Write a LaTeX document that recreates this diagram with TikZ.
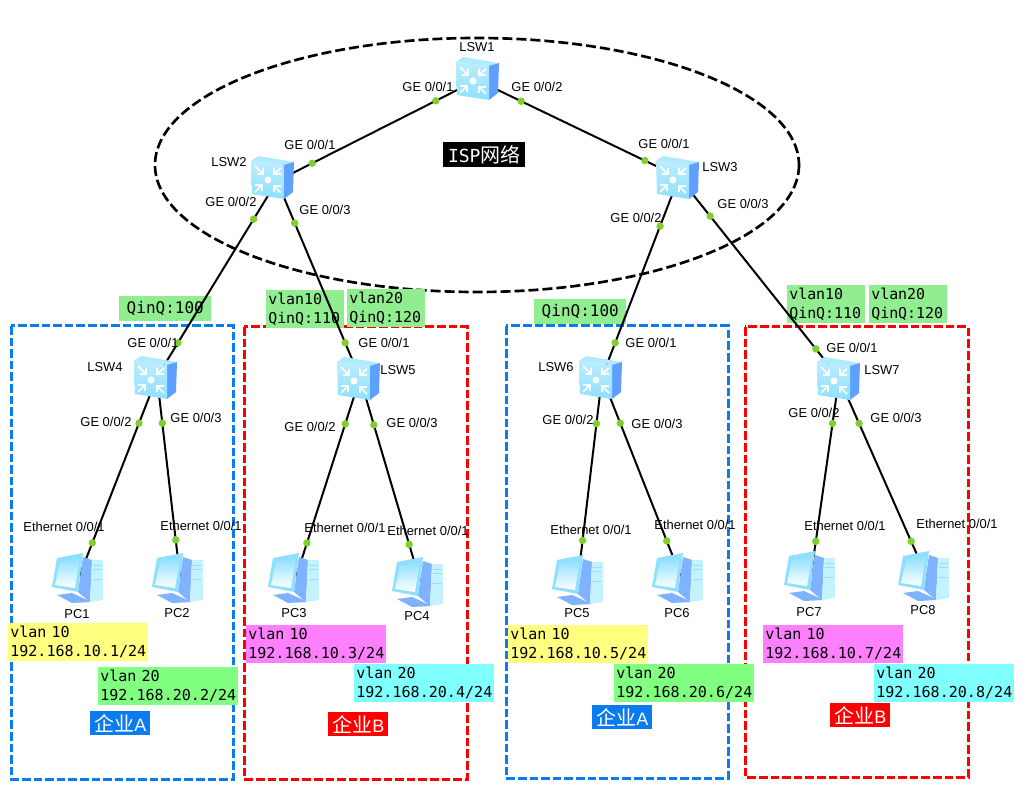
\documentclass[tikz,border=0pt]{standalone}
\usepackage{fontspec}
\setmainfont{Liberation Sans}
\setmonofont{DejaVu Sans Mono}
\newfontfamily\cjk{Noto Sans CJK SC}
\usepackage{xcolor}
\usepackage{tikz}
\usetikzlibrary{calc}
\definecolor{portGreen}{HTML}{7FD02F}
\definecolor{siteBlue}{HTML}{0A7CF0}
\definecolor{siteRed}{HTML}{FF0000}
\definecolor{noteYellow}{HTML}{FFFF80}
\definecolor{notePink}{HTML}{FF80FF}
\definecolor{noteGreen}{HTML}{80FF80}
\definecolor{noteCyan}{HTML}{80FFFF}
\definecolor{noteQinq}{HTML}{90EE90}
\definecolor{iconSky}{HTML}{8FE0FF}
\definecolor{iconPale}{HTML}{C4F3FF}
\definecolor{iconDeep}{HTML}{5F9FFF}
\definecolor{iconMid}{HTML}{7FB2FF}

\tikzset{
  devnode/.style={inner sep=0pt, minimum size=0pt},
  link/.style={black, line width=1.5pt},
  port/.style={circle, fill=portGreen, inner sep=0pt, minimum size=5.6pt},
  devtext/.style={inner sep=0pt, font=\fontsize{9.7}{11}\selectfont},
  vlanbox/.style={anchor=north west, inner sep=1.5pt, text width=102pt, minimum height=28.5pt, align=left, font=\ttfamily\fontsize{11.3}{14.4}\selectfont},
  qinqbox/.style={anchor=north west, fill=noteQinq, inner sep=1.5pt, text width=55pt, minimum height=28.5pt, align=left, font=\ttfamily\fontsize{11.2}{14.4}\selectfont},
  qinqone/.style={anchor=north west, fill=noteQinq, inner sep=0pt, minimum width=69pt, minimum height=18.5pt, font=\ttfamily\fontsize{12}{14}\selectfont},
  sitetag/.style={anchor=north west, text=white, inner sep=0pt, minimum width=45pt, minimum height=18pt, font=\fontsize{13.5}{15}\selectfont},
  sitebox/.style={line width=2.25pt, dash pattern=on 6.5pt off 2.2pt},
  switchicon/.pic={
    \fill[iconSky!70!white] (-21,-16) -- (-14,-21) -- (22,-15) -- (12,-12) -- cycle;
    \fill[iconDeep] (12,-12) -- (22,-15) -- (21,15) -- (12,22) -- cycle;
    \shade[top color=iconSky!60!white, bottom color=iconSky] (-21,-16) -- (12,-12) -- (12,22) -- (-20,17) -- cycle;
    \fill[white] (-4,3) circle (3.5);
    \draw[white, line width=1.3pt] (-17,-11) -- (-9,-3) (-9,-9) -- (-9,-3) -- (-15,-3)
      (9,-9) -- (2,-3) (2,-9) -- (2,-3) -- (9,-3)
      (-17,15) -- (-10,8) (-10,14) -- (-10,8) -- (-17,8)
      (9,16) -- (2,9) (2,15) -- (2,9) -- (9,9);
  },
  pcicon/.pic={
    \fill[iconMid] (-21,18) -- (-6,16) -- (14,25) -- (-6,26) -- cycle;
    \fill[iconMid] (5,-20) -- (14,-17) -- (12,25) -- (0,15) -- cycle;
    \fill[iconPale] (14,-17) -- (25,-17) -- (25,23) -- (12,25) -- cycle;
    \draw[iconSky, line width=0.7pt] (15,-12) -- (24,-12) (15,-8) -- (24,-8) (15,2) -- (24,2);
    \fill[iconSky] (-26,10) -- (-21,-19) -- (5,-24) -- (0,15) -- cycle;
    \shade[top color=iconSky, bottom color=white] (-23,8) -- (-18,-15) -- (2,-19) -- (-3,11) -- cycle;
  }
}

\begin{document}
\begin{tikzpicture}[x=0.75pt, y=-0.75pt, line cap=butt]
  \useasboundingbox (0,0) rectangle (1025,791);

  % link ends of the devices
  \foreach \name/\x/\y in {lsw1/477/80, lsw2/277/181, lsw3/679/177, lsw4/157/377, lsw5/360/378, lsw6/602/377, lsw7/839/378,
      pc1/79/577, pc2/180/577, pc3/296/577, pc4/420/581, pc5/578/579, pc6/681/577, pc7/811/575, pc8/926/575}
    \node[devnode] (\name) at (\x,\y) {};

  % isp cloud and customer sites
  \draw[black, line width=2pt, dash pattern=on 7.5pt off 3pt] (477,165) ellipse [x radius=322, y radius=127];
  \draw[sitebox, siteBlue] (11,326) rectangle (233,779);
  \draw[sitebox, siteRed] (244,327) rectangle (467,779);
  \draw[sitebox, siteBlue] (506,326) rectangle (728,778);
  \draw[sitebox, siteRed] (745,327) rectangle (968,777);

  % outer tags
  \node[qinqone] (tagA) at (119,296) {QinQ:100};
  \node[qinqone] (tagB) at (534,299) {QinQ:100};
  \node[qinqbox] (tagC) at (266,290) {vlan10\\QinQ:110};
  \node[qinqbox] (tagD) at (347,289) {vlan20\\QinQ:120};
  \node[qinqbox] (tagE) at (787,285) {vlan10\\QinQ:110};
  \node[qinqbox] (tagF) at (869,285) {vlan20\\QinQ:120};

  % links, each with its two port dots
  \foreach \from/\to/\p/\q in {lsw1/lsw2/0.205/0.825, lsw1/lsw3/0.218/0.832, lsw2/lsw4/0.194/0.827, lsw2/lsw5/0.213/0.822,
      lsw3/lsw6/0.245/0.83, lsw3/lsw7/0.194/0.856, lsw4/pc1/0.23/0.83, lsw4/pc2/0.23/0.815,
      lsw5/pc3/0.23/0.83, lsw5/pc4/0.23/0.82, lsw6/pc5/0.23/0.81, lsw6/pc6/0.23/0.82,
      lsw7/pc7/0.23/0.83, lsw7/pc8/0.23/0.83}
    \draw[link] (\from) -- node[port, pos=\p] {} node[port, pos=\q] {} (\to);

  \foreach \x/\y in {477/78, 272/177, 677/177, 155/377, 358/378, 600/377, 838/378}
    \pic at (\x,\y) {switchicon};
  \foreach \x/\y in {78/577, 178/577, 294/577, 418/581, 578/579, 678/577, 810/575, 924/575}
    \pic at (\x,\y) {pcicon};

  % device names
  \foreach \name/\x/\y/\txt in {nameA/477/47/LSW1, nameB/229/162/LSW2, nameC/720/167/LSW3, nameD/105/367/LSW4,
      nameE/398/370/LSW5, nameF/556/367/LSW6, nameG/882/370/LSW7,
      nameH/77/614/PC1, nameI/177/613/PC2, nameJ/294/613/PC3, nameK/417/616/PC4,
      nameL/577/613/PC5, nameM/677/613/PC6, nameN/809/612/PC7, nameO/923/610/PC8}
    \node[devtext] (\name) at (\x,\y) {\txt};

  % port names
  \foreach \name/\x/\y/\n in {geA/428/87/1, geB/537/87/2, geC/310/145/1, geD/231/202/2, geE/325/210/3,
      geF/664/144/1, geG/636/218/2, geH/743/204/3, geI/153/343/1, geJ/106/422/2, geK/196/418/3,
      geL/384/343/1, geM/310/427/2, geN/412/423/3, geO/651/343/1, geP/568/420/2, geQ/657/424/3,
      geR/852/348/1, geS/814/413/2, geT/896/418/3}
    \node[devtext] (\name) at (\x,\y) {GE 0/0/\n};
  \foreach \name/\x/\y in {ethA/64/527, ethB/201/526, ethC/345/528, ethD/428/531,
      ethE/591/530, ethF/695/525, ethG/845/526, ethH/957/524}
    \node[devtext] (\name) at (\x,\y) {Ethernet 0/0/1};

  % address notes
  \node[vlanbox, fill=noteYellow] (ipA) at (8,623) {vlan 10\\192.168.10.1/24};
  \node[vlanbox, fill=noteGreen] (ipB) at (98,667) {vlan 20\\192.168.20.2/24};
  \node[vlanbox, fill=notePink] (ipC) at (246,625) {vlan 10\\192.168.10.3/24};
  \node[vlanbox, fill=noteCyan] (ipD) at (354,664) {vlan 20\\192.168.20.4/24};
  \node[vlanbox, fill=noteYellow] (ipE) at (508,625) {vlan 10\\192.168.10.5/24};
  \node[vlanbox, fill=noteGreen] (ipF) at (614,664) {vlan 20\\192.168.20.6/24};
  \node[vlanbox, fill=notePink] (ipG) at (763,625) {vlan 10\\192.168.10.7/24};
  \node[vlanbox, fill=noteCyan] (ipH) at (874,664) {vlan 20\\192.168.20.8/24};

  % site captions
  \node[sitetag, fill=siteBlue] (siteA) at (90,711) {{\cjk\fontsize{15}{15}\selectfont 企业}A};
  \node[sitetag, fill=siteRed] (siteB) at (328,712) {{\cjk\fontsize{15}{15}\selectfont 企业}B};
  \node[sitetag, fill=siteBlue] (siteC) at (592,705) {{\cjk\fontsize{15}{15}\selectfont 企业}A};
  \node[sitetag, fill=siteRed] (siteD) at (830,703) {{\cjk\fontsize{15}{15}\selectfont 企业}B};
  \node[anchor=north west, fill=black, text=white, inner sep=0pt, minimum width=61.5pt, minimum height=18.5pt, font=\ttfamily\fontsize{13.5}{15}\selectfont] (ispTag) at (443,142) {ISP{\cjk\fontsize{15}{15}\selectfont 网络}};
\end{tikzpicture}
\end{document}
